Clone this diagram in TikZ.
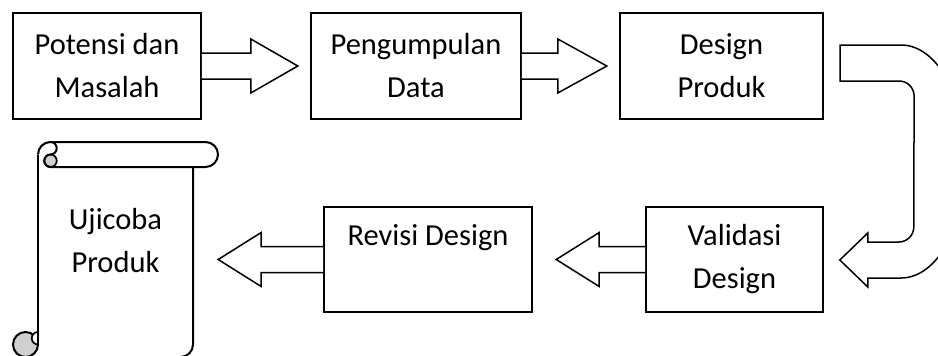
\documentclass[tikz,border=0pt]{standalone}
\usepackage{fontspec}
\setmainfont{Carlito}
\usetikzlibrary{calc}
\definecolor{rollgray}{HTML}{D0D0D0}
\tikzset{
  txt/.style={font=\fontsize{30.5}{43}\selectfont, align=center},
  stagebox/.style={draw, line width=1.6pt, inner sep=0pt, minimum height=106pt, txt},
  boldbox/.style={stagebox, line width=2.2pt},
  blk/.style={draw, line width=1.5pt, line join=miter, fill=white},
  scrollline/.style={draw, line width=2pt, line join=round},
}
\begin{document}
\begin{tikzpicture}[x=1pt, y=-1pt]
\useasboundingbox (0,0) rectangle (938,356);
\clip (0,0) rectangle (938,356);

% ---- top row -------------------------------------------------------
\node[stagebox, minimum width=188pt] (p1) at (107,66) {Potensi dan\\Masalah};
\node[stagebox, minimum width=210pt] (p2) at (416,66) {Pengumpulan\\Data};
\node[boldbox,  minimum width=203pt] (p3) at (721.5,66) {Design\\Produk};

% ---- bottom row ----------------------------------------------------
\node[stagebox, minimum width=177pt, minimum height=105pt] (v) at (734.5,259.5) {Validasi\\Design};
\node[stagebox, minimum width=208pt, minimum height=105pt] (r) at (428,259.5) {};
\node[txt, anchor=base] (rtext) at (428,245) {Revisi Design};

% ---- block arrows between the stages --------------------------------
\draw[blk] ($(p1.east)+(0,-13)$) -- ++(49,0) -- ++(0,-14) -- ($(p1.east)+(96,0)$)
  -- ++(-47,27) -- ++(0,-14) -- ($(p1.east)+(0,13)$);
\draw[blk] ($(p2.east)+(0,-13)$) -- ++(36,0) -- ++(0,-14) -- ($(p2.east)+(85,0)$)
  -- ++(-49,27) -- ++(0,-14) -- ($(p2.east)+(0,13)$);
\draw[blk] ($(v.west)+(0,-13)$) -- ++(-46,0) -- ++(0,-14) -- ($(v.west)+(-89,0)$)
  -- ++(43,27) -- ++(0,-14) -- ($(v.west)+(0,13)$);
\draw[blk] ($(r.west)+(0,-13)$) -- ++(-62,0) -- ++(0,-14) -- ($(r.west)+(-105,0)$)
  -- ++(43,27) -- ++(0,-14) -- ($(r.west)+(0,13)$);

% ---- U-turn arrow from the top row down to the bottom row ------------
\coordinate (uTop) at ($(p3.east)+(16,-21)$);
\coordinate (uIn)  at ($(p3.east)+(16,15)$);
\coordinate (uTip) at ($(v.east)+(16,0.5)$);
\coordinate (uBot) at ($(v.east)+(44,18.5)$);
\draw[blk] (uTop) -- ++(61,0)
  arc[start angle=-90, end angle=90, x radius=65, y radius=116.5]
  -- (uBot) -- ++(0,9) -- (uTip) -- ++(28,-27) -- ++(0,9) -- ++(31,0)
  arc[start angle=90, end angle=0, radius=15]
  -- ($(uIn)+(74,15)$)
  arc[start angle=0, end angle=-90, radius=15]
  -- (uIn) -- cycle;

% ---- scroll ----------------------------------------------------------
\fill[white] (38,154.5) rectangle (193,357);
\draw[scrollline] (193,167) -- (193,344.5) arc[start angle=0, end angle=90, radius=12.5] -- (38,357);
\draw[scrollline] (38,154.5) -- (38,344.5);
% upper roll
\fill[white] (50.5,142) -- (205.5,142) arc[start angle=-90, end angle=90, radius=12.5] -- (50.5,167) -- cycle;
\filldraw[fill=rollgray, line width=1.7pt] (50.5,160.75) circle[radius=6.25];
\draw[scrollline] (38,154.5) arc[start angle=180, end angle=270, radius=12.5]
  -- (205.5,142) arc[start angle=-90, end angle=90, radius=12.5]
  -- (50.5,167) arc[start angle=90, end angle=270, radius=6.25]
  arc[start angle=90, end angle=-90, radius=6.25];
% lower curl
\filldraw[fill=rollgray, line width=2pt] (25.5,344.5) circle[radius=12.5];
\filldraw[fill=white, line width=1.7pt] (38,332) arc[start angle=-90, end angle=-270, radius=6.25] -- cycle;
\node[txt] (u) at (115.5,241) {Ujicoba\\Produk};
\end{tikzpicture}
\end{document}
